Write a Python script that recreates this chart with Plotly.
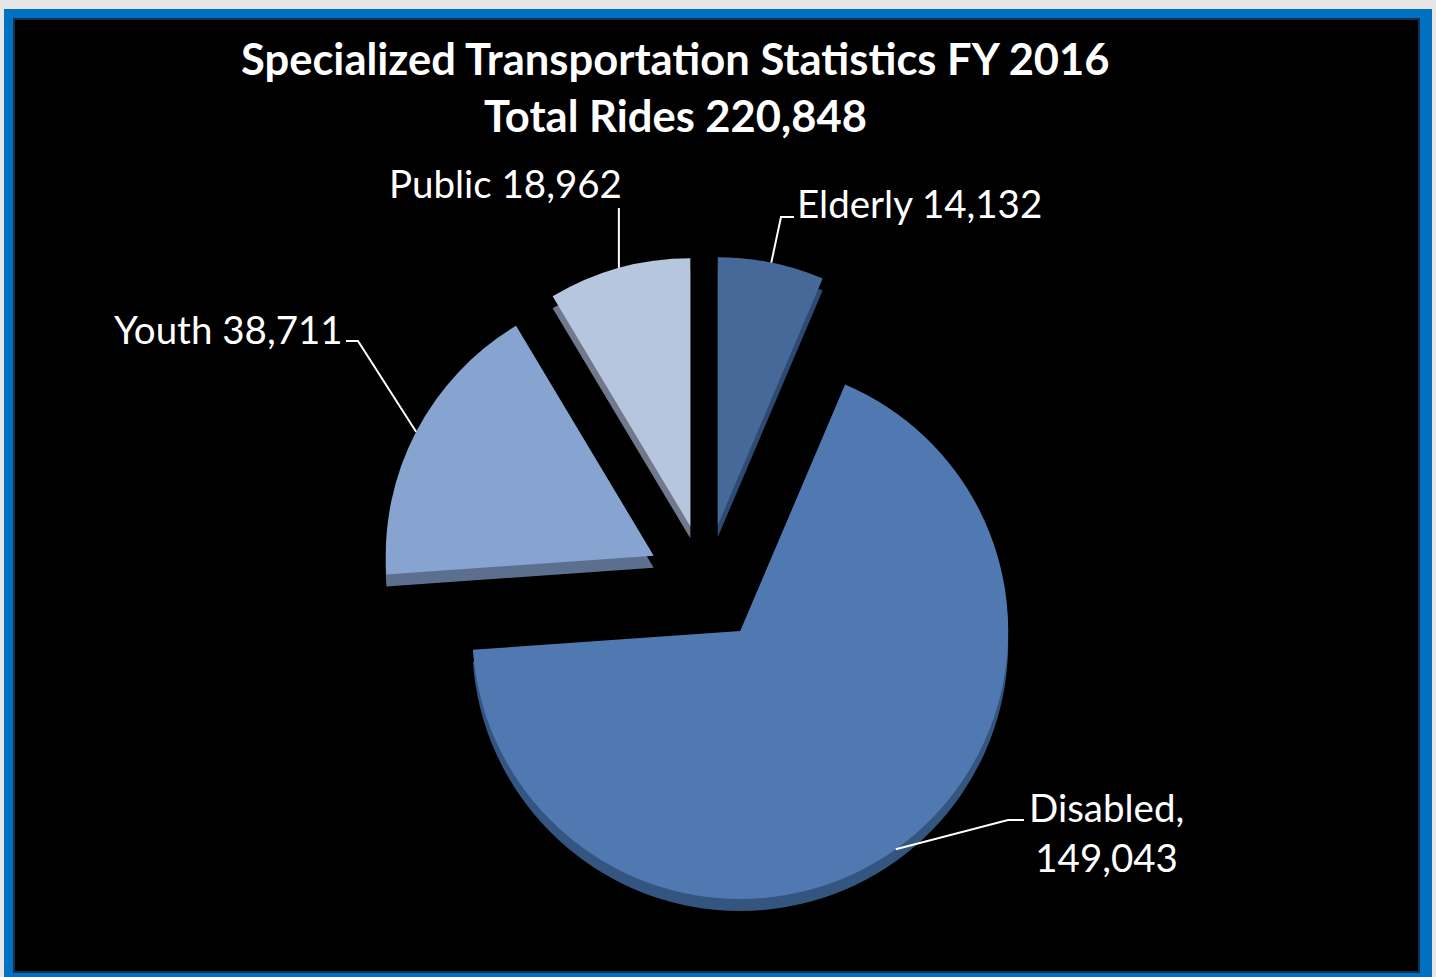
import math
import plotly.graph_objects as go

# ---------------- data ----------------
categories = ["Elderly", "Disabled", "Youth", "Public"]
rides = [14132, 149043, 38711, 18962]
total_rides = 220848
label_texts = ["Elderly 14,132", "Disabled,<br>149,043", "Youth 38,711", "Public 18,962"]
title_line1 = "Specialized Transportation Statistics FY 2016"
title_line2 = f"Total Rides {total_rides:,}"

# ---------------- styling ----------------
W, H = 1436, 977
top_colors = ["#46699a", "#4f79b0", "#87a3d0", "#b7c6df"]
side_colors = ["#2e4a72", "#34557f", "#5d6f8e", "#707a8c"]
PULL = 0.22
CX, CY, R = 706, 583, 268      # pie centre / radius in pixels
DEPTH = 12                     # fake 3-D thickness
FONT = "Lato"


def fx(px):
    return px / W


def fy(py):
    return 1 - py / H


def pie_domain(cx, cy):
    half = R * (1 + PULL)
    return dict(x=[fx(cx - half), fx(cx + half)], y=[fy(cy + half), fy(cy - half)])


fig = go.Figure()

# extruded "side" of the pie (drawn first, slightly lower)
fig.add_trace(go.Pie(
    values=rides, labels=categories, sort=False, direction="clockwise", rotation=0,
    pull=[PULL] * len(rides), marker=dict(colors=side_colors, line=dict(width=0)),
    textinfo="none", hoverinfo="skip", showlegend=False,
    domain=pie_domain(CX, CY + DEPTH),
))
# top surface
fig.add_trace(go.Pie(
    values=rides, labels=categories, sort=False, direction="clockwise", rotation=0,
    pull=[PULL] * len(rides), marker=dict(colors=top_colors, line=dict(width=0)),
    textinfo="none", showlegend=False,
    hovertemplate="%{label}: %{value:,}<extra></extra>",
    domain=pie_domain(CX, CY),
))

# ---------------- frame ----------------
shapes = [
    dict(type="rect", xref="paper", yref="paper", x0=fx(4), x1=fx(1432), y0=fy(977), y1=fy(9),
         fillcolor="#0070c0", line=dict(width=0), layer="below"),
    dict(type="rect", xref="paper", yref="paper", x0=fx(14), x1=fx(1419), y0=fy(972), y1=fy(19),
         fillcolor="#000000", line=dict(color="#15304f", width=2), layer="below"),
]

# ---------------- labels + leader lines ----------------
fracs = [v / sum(rides) for v in rides]
cum = 0
mids = []
for f in fracs:
    mids.append((cum + f / 2) * 2 * math.pi)
    cum += f

# label layout: (x, y, xanchor), elbow points for leader line
label_pos = [
    (795, 203, "left"),
    (1106, 832, "center"),
    (112, 329, "left"),
    (387, 183, "left"),
]
elbows = [
    [(781, 217), (794, 217)],
    [(1008, 820), (1024, 820)],
    [(358, 341), (346, 341)],
    [None, None],
]

annotations = []
for i, txt in enumerate(label_texts):
    lx, ly, anc = label_pos[i]
    annotations.append(dict(
        text=txt, x=fx(lx), y=fy(ly), xref="paper", yref="paper", xanchor=anc, yanchor="middle",
        showarrow=False, align="center", font=dict(family=FONT, size=38.5, color="white"),
    ))
    m = mids[i]
    ax = CX + (1 + PULL) * R * math.sin(m)
    ay = CY - (1 + PULL) * R * math.cos(m)
    pts = [(ax, ay)]
    if elbows[i][0] is None:
        pts.append((ax, 208))
    else:
        pts += elbows[i]
    path = "M " + " L ".join(f"{fx(px)},{fy(py)}" for px, py in pts)
    shapes.append(dict(type="path", xref="paper", yref="paper", path=path,
                       line=dict(color="white", width=2)))

annotations.append(dict(text=f"<b>{title_line1}</b>", x=fx(675), y=fy(58), xref="paper", yref="paper",
                        xanchor="center", yanchor="middle", showarrow=False,
                        font=dict(family=FONT, size=43.5, color="white")))
annotations.append(dict(text=f"<b>{title_line2}</b>", x=fx(675), y=fy(115), xref="paper", yref="paper",
                        xanchor="center", yanchor="middle", showarrow=False,
                        font=dict(family=FONT, size=43.5, color="white")))

fig.update_layout(
    width=W, height=H, margin=dict(l=0, r=0, t=0, b=0),
    paper_bgcolor="#e6e6e6", plot_bgcolor="#e6e6e6",
    shapes=shapes, annotations=annotations, showlegend=False,
)

fig.write_html("out.html", config={"displayModeBar": False},
               post_script="document.body.style.margin='0';")
